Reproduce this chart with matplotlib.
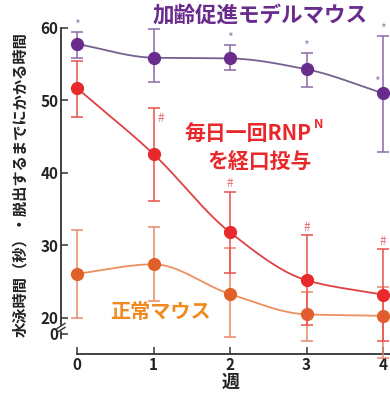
import numpy as np
import matplotlib
matplotlib.use("Agg")
import matplotlib.pyplot as plt

plt.rcParams['font.family'] = ['Noto Sans CJK JP', 'DejaVu Sans']

# ---- data -----------------------------------------------------------
weeks = [0, 1, 2, 3, 4]
week_labels = ['0', '1', '2', '3', '4']

aged_mean = [57.8, 55.9, 55.8, 54.3, 51.0]
aged_upper = [59.5, 59.9, 57.7, 56.6, 58.9]
aged_lower = [55.8, 52.5, 54.2, 51.9, 42.9]

rnp_mean = [51.7, 42.6, 31.8, 25.2, 23.2]
rnp_upper = [55.4, 48.9, 37.4, 31.4, 29.5]
rnp_lower = [47.7, 36.2, 26.2, 19.0, 16.8]

normal_mean = [26.1, 27.4, 23.3, 20.5, 20.3]
normal_upper = [32.1, 32.5, 29.6, 23.6, 24.3]
normal_lower = [20.0, 22.3, 17.4, 16.8, 14.5]

ytick_values = [17.8, 20, 30, 40, 50, 60]
ytick_labels = ['0', '20', '30', '40', '50', '60']

PURPLE = '#6a2c8c'
PURPLE_LINE = '#76608f'
RED = '#e8282a'
RED_LINE = '#e04040'
ORANGE = '#e0602a'
ORANGE_LINE = '#ec9060'
ORANGE_TEXT = '#f08a1e'


def pchip(x, y, n=200):
    """Monotone cubic (PCHIP) curve through the points."""
    x = np.asarray(x, float)
    y = np.asarray(y, float)
    h = np.diff(x)
    d = np.diff(y) / h
    m = np.zeros_like(y)
    for k in range(1, len(x) - 1):
        if d[k - 1] * d[k] <= 0:
            m[k] = 0.0
        else:
            w1 = 2 * h[k] + h[k - 1]
            w2 = h[k] + 2 * h[k - 1]
            m[k] = (w1 + w2) / (w1 / d[k - 1] + w2 / d[k])
    m[0] = d[0]
    m[-1] = d[-1]
    xs = np.linspace(x[0], x[-1], n)
    ys = np.empty_like(xs)
    for i, xv in enumerate(xs):
        k = min(np.searchsorted(x, xv, side='right') - 1, len(x) - 2)
        t = (xv - x[k]) / h[k]
        h00 = 2 * t**3 - 3 * t**2 + 1
        h10 = t**3 - 2 * t**2 + t
        h01 = -2 * t**3 + 3 * t**2
        h11 = t**3 - t**2
        ys[i] = h00 * y[k] + h10 * h[k] * m[k] + h01 * y[k + 1] + h11 * h[k] * m[k + 1]
    return xs, ys


W, H = 390, 398
fig = plt.figure(figsize=(W / 100, H / 100), dpi=100)
ax = fig.add_axes([61 / W, (H - 354) / H, 1 - 61 / W, 354 / H])
ax.set_xlim(-0.21, 4.09)
ax.set_ylim(15.03, 63.86)


def series(mean, upper, lower, mcol, lcol, ecol, z):
    mean = np.asarray(mean)
    yerr = [mean - np.asarray(lower), np.asarray(upper) - mean]
    xs, ys = pchip(weeks, mean)
    ax.plot(xs, ys, color=lcol, lw=1.3, zorder=z, clip_on=False)
    ax.errorbar(weeks, mean, yerr=yerr, fmt='none', ecolor=ecol,
                elinewidth=1.1, capsize=4, capthick=1.1, zorder=z,
                clip_on=False)
    ax.plot(weeks, mean, 'o', ms=8.5, color=mcol, mec=mcol, zorder=z + 1,
            clip_on=False)


series(normal_mean, normal_upper, normal_lower, ORANGE, ORANGE_LINE, '#e8876a', 3)
series(rnp_mean, rnp_upper, rnp_lower, RED, RED_LINE, '#e8504a', 4)
series(aged_mean, aged_upper, aged_lower, PURPLE, PURPLE_LINE, '#8a6aa5', 5)

# significance marks
for i in [0, 2, 3, 4]:
    ax.annotate('*', (weeks[i], aged_upper[i]), xytext=(0, 0),
                textcoords='offset points', ha='center', va='bottom',
                fontsize=9, color='#9a80b0', annotation_clip=False)
ax.annotate('*', (weeks[4], aged_mean[4]), xytext=(-4, 3),
            textcoords='offset points', ha='center', va='bottom',
            fontsize=9, color='#9a80b0', annotation_clip=False)
ax.annotate('#', (weeks[1], rnp_upper[1]), xytext=(3, -7),
            textcoords='offset points', ha='left', va='center',
            fontsize=8.5, color='#e87070')
for i in [2, 3, 4]:
    ax.annotate('#', (weeks[i], rnp_upper[i]), xytext=(0, 1),
                textcoords='offset points', ha='center', va='bottom',
                fontsize=8.5, color='#e87070', annotation_clip=False)

# axes styling
for s in ['top', 'right']:
    ax.spines[s].set_visible(False)
ax.spines['left'].set_bounds(17.3, 60)
ax.spines['bottom'].set_bounds(0, 4.09)
for s in ['left', 'bottom']:
    ax.spines[s].set_color('#333333')
    ax.spines[s].set_linewidth(1.3)

ax.set_yticks(ytick_values)
ax.set_yticklabels(ytick_labels)
ax.set_xticks(weeks)
ax.set_xticklabels(week_labels)
ax.tick_params(axis='both', direction='in', length=5, width=1.1,
               color='#333333', labelsize=11, pad=2)
for lab in ax.get_xticklabels() + ax.get_yticklabels():
    lab.set_fontweight('bold')
    lab.set_color('#222222')

# axis break on the y axis
tr = ax.get_yaxis_transform()
ax.add_patch(plt.Rectangle((-0.01, 18.35), 0.02, 0.55, transform=tr,
                           color='white', zorder=10, clip_on=False))
for yb in [18.35, 18.9]:
    ax.plot([-0.012, 0.012], [yb - 0.35, yb + 0.35], transform=tr,
            color='#333333', lw=1.0, zorder=11, clip_on=False)

fig.text(231 / W, 1 - 382 / H, '週', ha='center', va='center',
         fontsize=13, fontweight='bold', color='#222222')

fig.text(20 / W, 1 - 185 / H, '水泳時間（秒）・脱出するまでにかかる時間',
         rotation=90, ha='center', va='center', fontsize=11,
         fontweight='bold', color='#222222')

# series labels
fig.text(260 / W, 1 - 16 / H, '加齢促進モデルマウス', ha='center', va='center',
         fontsize=15.5, fontweight='bold', color=PURPLE)
fig.text(248 / W, 1 - 133 / H, '毎日一回RNP', ha='center', va='center',
         fontsize=15, fontweight='bold', color=RED)
fig.text(314 / W, 1 - 124 / H, 'N', ha='left', va='center',
         fontsize=9, fontweight='bold', color=RED)
fig.text(260 / W, 1 - 162 / H, 'を経口投与', ha='center', va='center',
         fontsize=15, fontweight='bold', color=RED)
fig.text(160 / W, 1 - 311 / H, '正常マウス', ha='center', va='center',
         fontsize=14.5, fontweight='bold', color=ORANGE_TEXT)

fig.savefig('out.png', dpi=100, facecolor='white')
